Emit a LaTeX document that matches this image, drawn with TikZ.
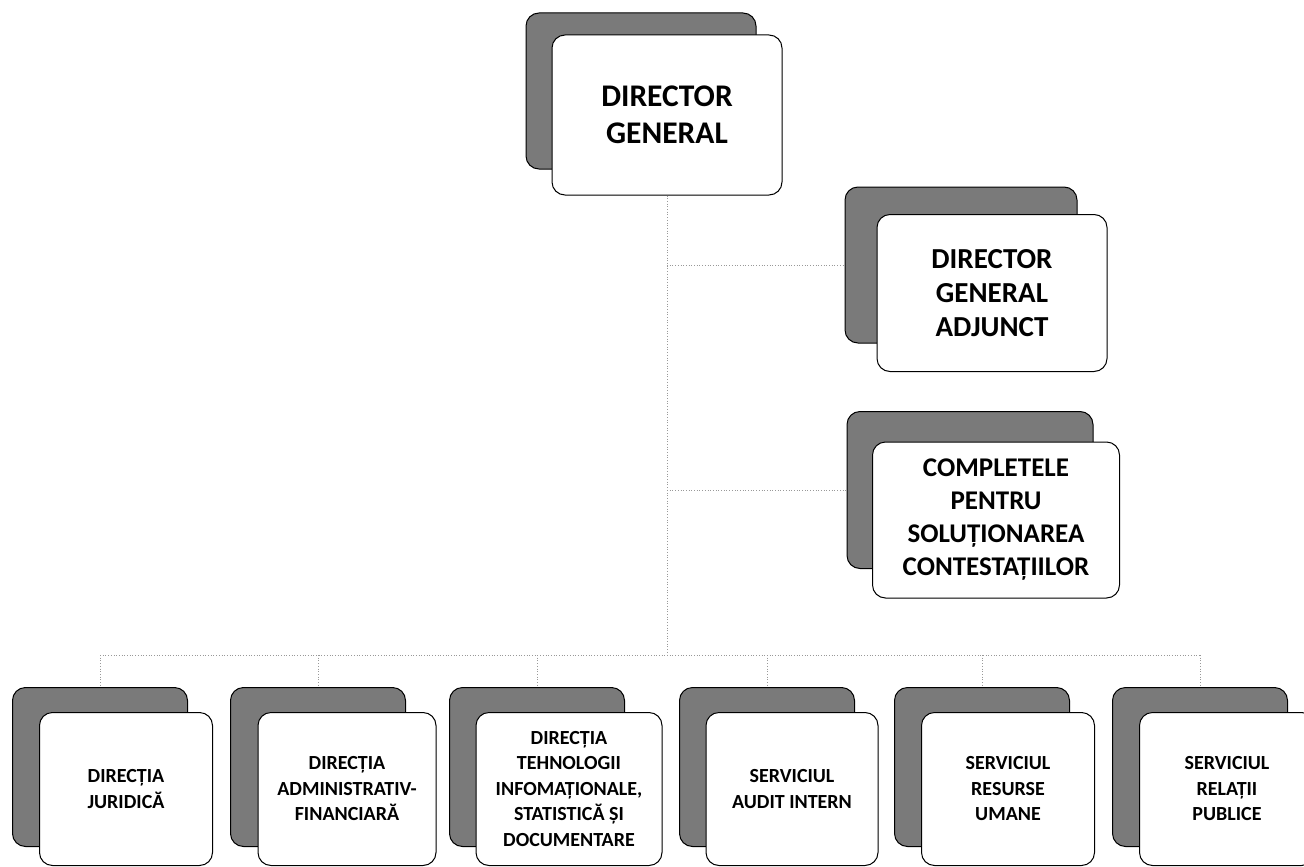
\documentclass[tikz,border=0pt]{standalone}
\usepackage{fontspec}
\setmainfont{Carlito}
\begin{document}
\begin{tikzpicture}[x=1pt,y=-1pt,
  shadowbox/.style={draw=black,line width=1pt,fill=black!52,rounded corners=13pt,inner sep=0pt},
  frontbox/.style={draw=black,line width=1pt,fill=white,rounded corners=13pt,align=center,inner sep=0pt,font=\bfseries},
  conn/.style={draw=black!40,line width=0.7pt,dotted}]
\clip (0,0) rectangle (1304,867);
% ---- top level
\node[shadowbox,minimum width=230pt,minimum height=156pt] (dgS) at (641,91) {};
\node[frontbox,minimum width=230pt,minimum height=160pt,font=\bfseries\fontsize{31.5}{37}\selectfont] (dg) at (667,115) {DIRECTOR\\GENERAL};
% ---- deputy
\node[shadowbox,minimum width=232pt,minimum height=156pt] (dgaS) at (961,265) {};
\node[frontbox,minimum width=230pt,minimum height=157pt,font=\bfseries\fontsize{29}{34}\selectfont] (dga) at (992,293) {DIRECTOR\\GENERAL\\ADJUNCT};
% ---- completele
\node[shadowbox,minimum width=246pt,minimum height=157pt] (cpS) at (970,490) {};
\node[frontbox,minimum width=247pt,minimum height=156pt,font=\bfseries\fontsize{27}{33}\selectfont] (cp) at (996,520) {COMPLETELE\\PENTRU\\SOLUȚIONAREA\\CONTESTAȚIILOR};
% ---- bottom row
\tikzset{bfont/.style={font=\bfseries\fontsize{20}{25.5}\selectfont}}
\node[shadowbox,minimum width=175pt,minimum height=159pt] (b1S) at (100,767) {};
\node[frontbox,bfont,minimum width=173pt,minimum height=153pt] (b1) at (126,789) {DIRECȚIA\\JURIDICĂ};
\node[shadowbox,minimum width=175pt,minimum height=159pt] (b2S) at (318,767) {};
\node[frontbox,bfont,minimum width=178pt,minimum height=153pt] (b2) at (347,789) {DIRECȚIA\\ADMINISTRATIV-\\FINANCIARĂ};
\node[shadowbox,minimum width=175pt,minimum height=159pt] (b3S) at (537,767) {};
\node[frontbox,bfont,minimum width=186pt,minimum height=153pt] (b3) at (569,789) {DIRECȚIA\\TEHNOLOGII\\INFOMAȚIONALE,\\STATISTICĂ ȘI\\DOCUMENTARE};
\node[shadowbox,minimum width=175pt,minimum height=159pt] (b4S) at (767,767) {};
\node[frontbox,bfont,minimum width=172pt,minimum height=153pt] (b4) at (792,789) {SERVICIUL\\AUDIT INTERN};
\node[shadowbox,minimum width=175pt,minimum height=159pt] (b5S) at (982,767) {};
\node[frontbox,bfont,minimum width=173pt,minimum height=153pt] (b5) at (1008,789) {SERVICIUL\\RESURSE\\UMANE};
\node[shadowbox,minimum width=175pt,minimum height=159pt] (b6S) at (1200,767) {};
\node[frontbox,bfont,minimum width=175pt,minimum height=153pt] (b6) at (1227,789) {SERVICIUL\\RELAȚII\\PUBLICE};
% ---- connectors
\coordinate (bus) at (667,655);
\draw[conn] (dg.south) -- (bus);
\draw[conn] (dg.south |- dgaS.west) -- (dgaS.west);
\draw[conn] (dg.south |- cpS.west) -- (cpS.west);
\draw[conn] (bus -| b1S.north) -- (bus -| b6S.north);
\foreach \i in {1,...,6} {\draw[conn] (bus -| b\i S.north) -- (b\i S.north);}
\end{tikzpicture}
\end{document}
